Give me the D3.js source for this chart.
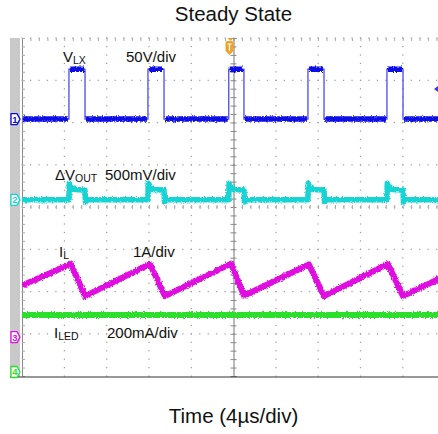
<!DOCTYPE html>
<html><head><meta charset="utf-8">
<script src="https://cdn.jsdelivr.net/npm/d3@7"></script>
<style>html,body{margin:0;padding:0;background:#fff;} svg{display:block;font-family:"Liberation Sans",Arial,sans-serif;}</style>
</head><body><svg id="c" width="438" height="434"></svg>
<script>
// ---------- data ----------
const timeDivTicks = [0,4,8,12,16,20,24,28,32,36,40];          // µs, 4 µs/div
const levelDivTicks = [0,1,2,3,4,5,6,7,8];                    // vertical divisions
const channelNames = ["1","2","3","4"];
const channelColors = ["#0a0ae6","#16d4d4","#e010e0","#2ae02a"];
const channelZeroDiv = [6.08, 4.17, 0.92, 0.095];             // zero level (div from bottom)
const channelPerDiv = [50, 500, 1, 200];                       // V, mV, A, mA per div

const vlxTime  = [0,4.44,4.44,5.96,5.96,11.91,11.91,13.43,13.43,19.55,19.55,20.99,20.99,27.04,27.04,28.56,28.56,34.51,34.51,36.03,36.03,39.6];
const vlxVolts = [0,0,59,59,0,0,59,59,0,0,59,59,0,0,59,59,0,0,59,59,0,0];

const dvTime = [0,4.44,4.47,4.6,4.75,4.9,5.4,5.96,6.0,6.2,
  11.91,11.94,12.07,12.22,12.37,12.87,13.43,13.47,13.67,
  19.55,19.58,19.71,19.86,20.01,20.5,20.99,21.03,21.23,
  27.04,27.07,27.2,27.35,27.5,28.0,28.56,28.6,28.8,
  34.51,34.54,34.67,34.82,34.97,35.5,36.03,36.07,36.27,39.6];
const dvMilliV = [0,0,195,125,150,122,120,115,-25,0,
  0,195,125,150,122,120,115,-25,0,
  0,195,125,150,122,120,115,-25,0,
  0,195,125,150,122,120,115,-25,0,
  0,195,125,150,122,120,115,-25,0,0];

const ilTime = [0,4.63,5.96,12.10,13.52,19.77,20.99,27.13,28.56,34.6,36.03,39.6];
const ilAmps = [1.22,1.73,0.97,1.73,0.97,1.74,0.98,1.72,0.97,1.73,0.97,1.40];

const iledTime = [0,39.6];
const iledMilliA = [270,270];

const labelMain = ["V","ΔV","I","I"];
const labelSub = ["LX","OUT","L","LED"];
const labelScale = ["50V/div","500mV/div","1A/div","200mA/div"];
const titleText = "Steady State";
const xLabelText = "Time (4µs/div)";

// ---------- scales ----------
const svg = d3.select("#c");
const x = d3.scaleLinear().domain([0,40]).range([22,445]);
const yDiv = d3.scaleLinear().domain([0,8]).range([376,38]);
const chY = (ch, v) => yDiv(channelZeroDiv[ch] + v / channelPerDiv[ch]);

const defs = svg.append("defs");
defs.append("clipPath").attr("id","plot").append("rect")
  .attr("x",22).attr("y",38).attr("width",416).attr("height",338);
const f = defs.append("filter").attr("id","rough").attr("filterUnits","userSpaceOnUse")
  .attr("x",0).attr("y",0).attr("width",438).attr("height",434);
f.append("feTurbulence").attr("type","fractalNoise").attr("baseFrequency","0.9 0.7")
  .attr("numOctaves",2).attr("seed",4).attr("result","n");
f.append("feDisplacementMap").attr("in","SourceGraphic").attr("in2","n").attr("scale",3.5)
  .attr("xChannelSelector","R").attr("yChannelSelector","G");

// gray side bar
svg.append("rect").attr("x",10).attr("y",38).attr("width",10).attr("height",339).attr("fill","#c9c9c9");

// ---------- grid ----------
const grid = svg.append("g");
const minorX = d3.range(0, 40.001, 0.8);
const minorY = d3.range(0, 8.001, 0.2);
timeDivTicks.forEach(t => {
  if (t === 0 || t === 20) return;
  grid.selectAll(null).data(minorY).join("rect")
    .attr("x", x(t)-0.5).attr("y", d => yDiv(d)-0.5).attr("width",1.2).attr("height",1.2).attr("fill","#9a9a9a");
});
levelDivTicks.forEach(l => {
  if (l === 0) return;
  grid.selectAll(null).data(minorX).join("rect")
    .attr("x", d => x(d)-0.5).attr("y", yDiv(l)-0.5).attr("width",1.2).attr("height",1.2).attr("fill","#9a9a9a");
});
grid.append("g").attr("transform",`translate(0,${yDiv(8)})`)
  .call(d3.axisBottom(x).tickValues(minorX).tickSize(3).tickFormat(""))
  .call(g => g.select(".domain").remove())
  .selectAll("line").attr("stroke","#aaa");
grid.append("g").attr("transform",`translate(${x(0)},0)`)
  .call(d3.axisRight(yDiv).tickValues(minorY).tickSize(3).tickFormat(""))
  .call(g => g.select(".domain").attr("stroke","#8a8a8a"))
  .selectAll("line").attr("stroke","#aaa");
grid.append("g").attr("transform",`translate(${x(20)},0)`)
  .call(d3.axisRight(yDiv).tickValues(minorY).tickSize(3).tickFormat(""))
  .call(g => g.select(".domain").attr("stroke","#777"))
  .selectAll("line").attr("stroke","#888").attr("x1",-3);
grid.append("g").attr("transform",`translate(0,${yDiv(4)})`)
  .call(d3.axisBottom(x).tickValues(minorX).tickSize(2).tickFormat(""))
  .call(g => g.select(".domain").remove())
  .selectAll("line").attr("stroke","#aaa").attr("y1",-2);
svg.append("line").attr("x1",10).attr("x2",438).attr("y1",377).attr("y2",377)
  .attr("stroke","#333").attr("stroke-width",1.2);

// ---------- traces ----------
const traces = svg.append("g").attr("clip-path","url(#plot)");
function pts(ch, ts, vs){ return ts.map((t,i)=>[x(t), chY(ch, vs[i])]); }
const line = d3.line();

traces.append("path").attr("d", line(pts(3, iledTime, iledMilliA)))
  .attr("fill","none").attr("stroke",channelColors[3]).attr("stroke-width",6).attr("filter","url(#rough)");
traces.append("path").attr("d", line(pts(2, ilTime, ilAmps)))
  .attr("fill","none").attr("stroke",channelColors[2]).attr("stroke-width",6)
  .attr("stroke-linejoin","round").attr("filter","url(#rough)");
traces.append("path").attr("d", line(pts(1, dvTime, dvMilliV)))
  .attr("fill","none").attr("stroke",channelColors[1]).attr("stroke-width",5.5)
  .attr("stroke-linejoin","round").attr("filter","url(#rough)");
const vp = pts(0, vlxTime, vlxVolts);
traces.append("path").attr("d", line(vp)).attr("fill","none")
  .attr("stroke","#4b4bf0").attr("stroke-width",1.3);
const levelSegs = [];
for (let i=0;i<vp.length-1;i++) if (vlxVolts[i]===vlxVolts[i+1]) levelSegs.push([vp[i],vp[i+1]]);
traces.append("g").attr("filter","url(#rough)").selectAll("line").data(levelSegs).join("line")
  .attr("x1",d=>d[0][0]+1).attr("x2",d=>d[1][0]-1).attr("y1",d=>d[0][1]).attr("y2",d=>d[1][1])
  .attr("stroke",channelColors[0]).attr("stroke-width",5.5);

// ---------- channel markers ----------
channelNames.forEach((n,i)=>{
  const cy = yDiv(channelZeroDiv[i]);
  const g = svg.append("g").attr("transform",`translate(11,${cy})`);
  g.append("path").attr("d","M0,-5.5 L6,-5.5 L9,0 L6,5.5 L0,5.5 Z")
    .attr("fill","#fff").attr("stroke",channelColors[i]).attr("stroke-width",1.3).attr("stroke-linejoin","round");
  g.append("text").attr("x",4).attr("y",3.5).attr("text-anchor","middle")
    .attr("font-size",9.5).attr("font-weight","bold").attr("fill",channelColors[i]).text(n);
});

const tg = svg.append("g").attr("transform",`translate(${x(20)-4},38)`);
tg.append("path").attr("d","M-2,0 L4,0 L1,3 Z").attr("fill","#f0a020");
tg.append("path").attr("d","M-4,5 Q-4,3 -2,3 L2,3 Q4,3 4,5 L4,13 L0,17 L-4,13 Z").attr("fill","#f2a22a");
tg.append("path").attr("d","M-2,6 L2,6 M0,6 L0,13").attr("stroke","#fff").attr("stroke-width",1.2);
svg.append("path").attr("d","M438,86 L434,89 L438,92 Z").attr("fill","#3a3ae6");

// ---------- labels ----------
const labelX = [63,55,59,54], labelY = [62,180,257,338], scaleX = [126,105,133,107];
labelMain.forEach((m,i)=>{
  const t = svg.append("text").attr("x",labelX[i]).attr("y",labelY[i]).attr("font-size",15).attr("fill","#111");
  t.append("tspan").text(m);
  t.append("tspan").attr("font-size",10.5).attr("dy",1.5).text(labelSub[i]);
  svg.append("text").attr("x",scaleX[i]).attr("y",labelY[i]).attr("font-size",15).attr("fill","#111").text(labelScale[i]);
});
svg.append("text").attr("x",233.5).attr("y",21).attr("text-anchor","middle").attr("font-size",20.5).attr("fill","#111").text(titleText);
svg.append("text").attr("x",233.5).attr("y",423).attr("text-anchor","middle").attr("font-size",20.5).attr("fill","#111").text(xLabelText);
</script></body></html>
